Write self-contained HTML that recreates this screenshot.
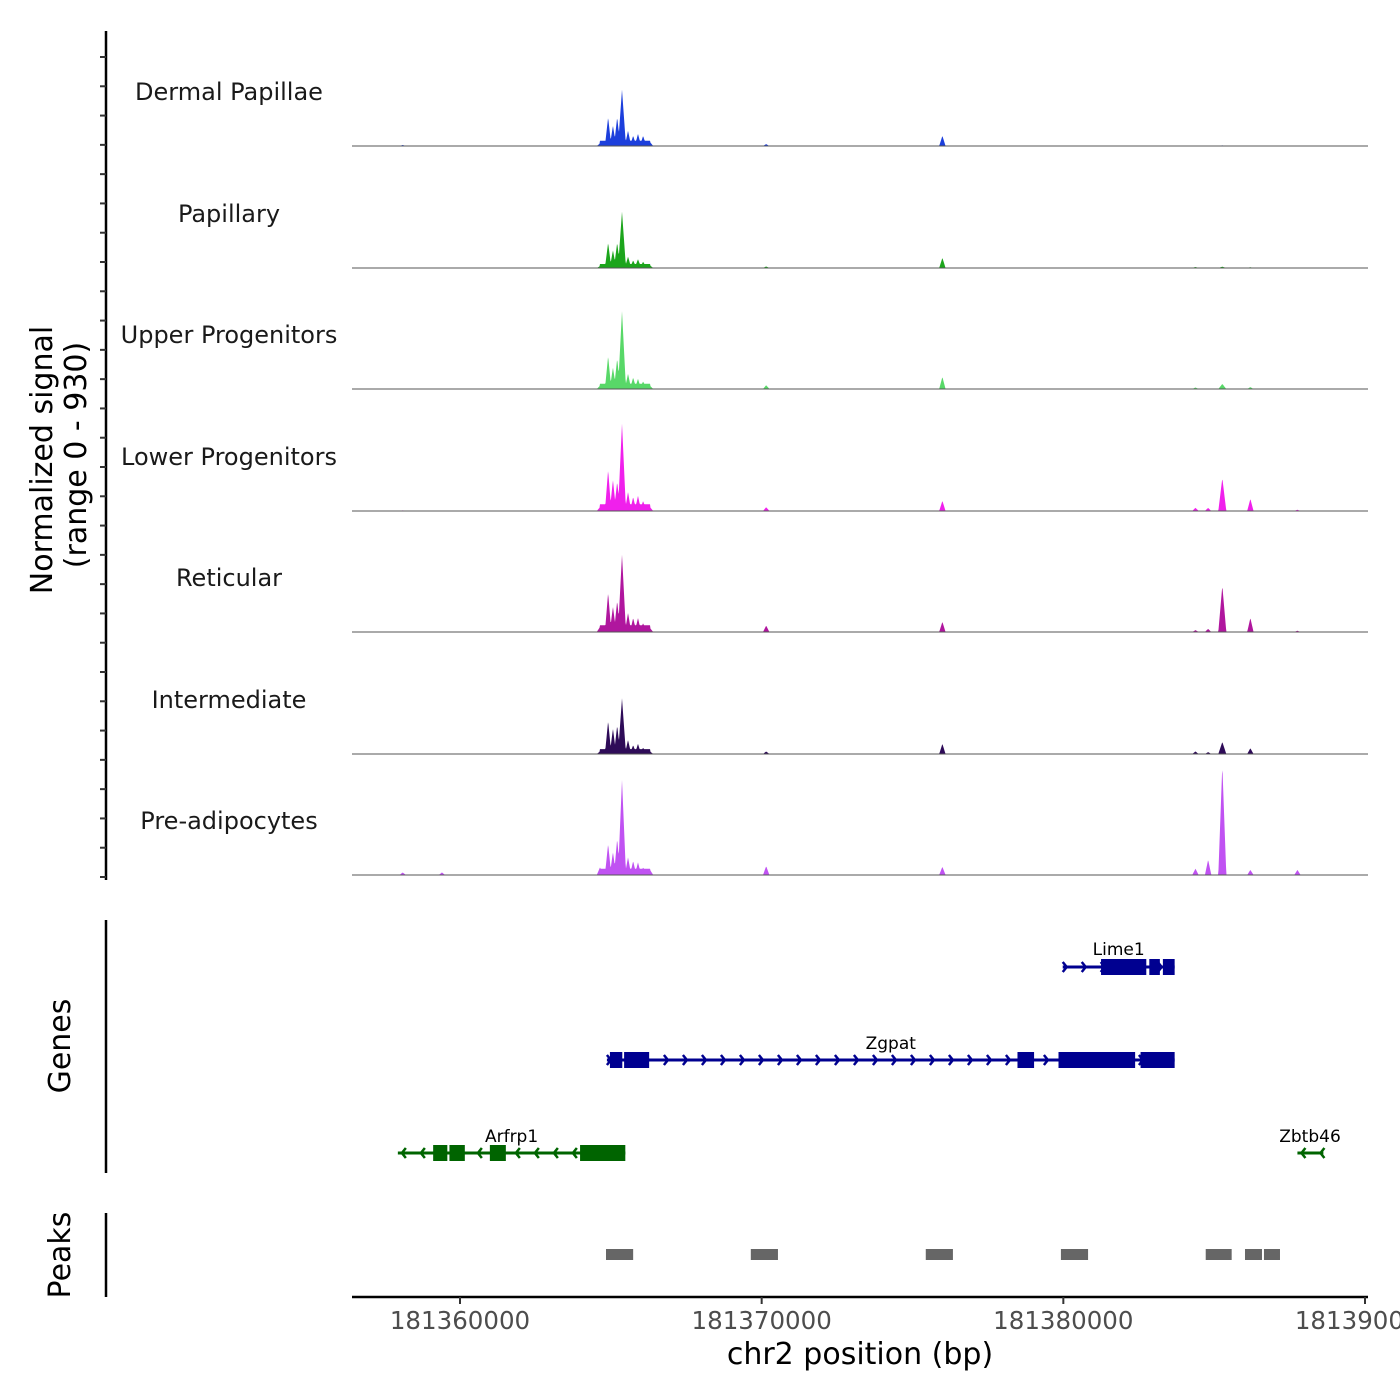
<!DOCTYPE html>
<html><head><meta charset="utf-8"><style>
html,body{margin:0;padding:0;background:#fff}
svg{display:block;font-family:"DejaVu Sans","Liberation Sans",sans-serif}
</style></head><body>
<svg id="chart" width="1400" height="1400" viewBox="0 0 1400 1400" xmlns="http://www.w3.org/2000/svg">
<rect width="1400" height="1400" fill="#fff"/>
<g id="tracks"></g>
<g id="genes"></g>
<g id="peaks"></g>
<g id="axes"></g>
</svg>
<script>
const NS="http://www.w3.org/2000/svg";
const trackNames=["Dermal Papillae","Papillary","Upper Progenitors","Lower Progenitors","Reticular","Intermediate","Pre-adipocytes"];
const trackColors=["#1c3fdc","#1ca51c","#58d868","#f020ec","#b0169e","#2e0b58","#c052f2"];
const peakPos=[-1900,-600,4640,4910,5070,5210,5370,5570,5740,5900,6070,6300,10150,15990,24380,24800,25270,26200,27760];
const dermalVals=[8,4,20,226,160,226,445,120,80,95,80,30,15,80,0,0,5,4,0];
const papillaryVals=[0,0,15,200,140,200,445,90,60,70,50,20,12,80,8,0,10,6,0];
const upperVals=[0,0,25,260,170,240,615,120,90,80,60,25,30,95,12,0,40,15,0];
const lowerVals=[5,0,30,325,245,230,690,150,110,120,80,30,30,80,25,25,260,95,10];
const reticularVals=[0,0,40,310,200,245,610,150,110,110,70,30,50,80,15,25,365,110,10];
const intermediateVals=[0,0,20,260,200,225,440,110,70,80,50,20,20,80,20,15,95,45,0];
const preadipVals=[20,20,60,245,180,285,750,140,110,100,60,40,70,65,50,120,865,40,40];
const series=[dermalVals,papillaryVals,upperVals,lowerVals,reticularVals,intermediateVals,preadipVals];
const xTicks=[181360000,181370000,181380000,181390000];
const yMax=930;
const geneNames=["Lime1","Zgpat","Arfrp1","Zbtb46"];
const geneStrand=[1,1,-1,-1];
const geneStart=[19980,4870,-2060,27760];
const geneEnd=[23690,23690,5480,28620];
const geneRow=[0,1,2,2];
const geneExons=[
 [[21250,22750],[22850,23200],[23300,23690]],
 [[4970,5380],[5440,6270],[18480,19030],[19840,22380],[22560,23690]],
 [[-890,-420],[-350,160],[990,1520],[3980,5480]],
 []
];
const peakStarts=[4840,9640,15440,19920,24720,26022,26651];
const peakEnds=[5740,10540,16340,20820,25580,26585,27182];

const X0=181360000, PX0=460, PXPERBP=(1365-460)/30000;
function xs(bp){return PX0+(bp-X0)*PXPERBP;}
function xo(off){return xs(X0+off);}
const baselines=[146,268,389,511,632,754,875];
const trackH=118;
function ys(v,i){return baselines[i]-v/yMax*trackH;}
function mk(tag,attrs,parent){const e=document.createElementNS(NS,tag);for(const k in attrs)e.setAttribute(k,attrs[k]);parent.appendChild(e);return e;}

const tracks=document.getElementById('tracks');
for(let t=0;t<series.length;t++){
  const vals=series[t];
  let pts=[];
  for(let px=352;px<=1368;px+=0.5){
    let v=0;
    for(let k=0;k<peakPos.length;k++){
      const c=xo(peakPos[k]);const hw=(k===6||k===16)?4:3.2;
      const d=Math.abs(px-c);
      if(d<hw){v=Math.max(v,vals[k]*(1-d/hw));}
    }
    const c1=xo(peakPos[2]),c2=xo(peakPos[11]);
    if(px>c1&&px<c2){v=Math.max(v,vals[7]*0.35);}
    pts.push(px.toFixed(1)+","+ys(v,t).toFixed(1));
  }
  const poly=mk('polygon',{points:"352,"+baselines[t]+" "+pts.join(" ")+" 1368,"+baselines[t],fill:trackColors[t]},tracks);
  
  
  const bl=mk('line',{x1:352,x2:1368,y1:baselines[t],y2:baselines[t],stroke:'#555','stroke-width':1},tracks);
  
  
  const lab=mk('text',{x:229,y:baselines[t]-46,'text-anchor':'middle','font-size':24,fill:'#1a1a1a'},tracks);
  lab.textContent=trackNames[t];
  
  
}

const genes=document.getElementById('genes');
const rowY=[967,1060,1153];
const labY=[955,1049,1142];
for(let g=0;g<geneNames.length;g++){
  const y=rowY[geneRow[g]];
  const col=geneStrand[g]>0?'#000090':'#006400';
  const x1=xo(geneStart[g]),x2=xo(geneEnd[g]);
  const grp=mk('g',{},genes);
  
  
  mk('line',{x1:x1,x2:x2,y1:y,y2:y,stroke:col,'stroke-width':3},grp);
  for(let ax=x1+4;ax<x2;ax+=19){
    const s=geneStrand[g];
    mk('polyline',{points:(ax-4*s)+","+(y-5)+" "+ax+","+y+" "+(ax-4*s)+","+(y+5),fill:'none',stroke:col,'stroke-width':2.5},grp);
  }
  for(const ex of geneExons[g]){
    mk('rect',{x:xo(ex[0]),y:y-8,width:xo(ex[1])-xo(ex[0]),height:16,fill:col},grp);
  }
  const t=mk('text',{x:(x1+x2)/2,y:labY[geneRow[g]],'text-anchor':'middle','font-size':17,fill:'#000'},grp);
  if(g===3)t.setAttribute('x',1310);
  t.textContent=geneNames[g];
}

const peaks=document.getElementById('peaks');
for(let p=0;p<peakStarts.length;p++){
  const r=mk('rect',{x:xo(peakStarts[p]),y:1249,width:xo(peakEnds[p])-xo(peakStarts[p]),height:11,fill:'#666'},peaks);
  
  
}

const axes=document.getElementById('axes');
mk('line',{x1:106,x2:106,y1:31,y2:880,stroke:'#000','stroke-width':2.5},axes);
for(let i=0;i<29;i++){
  const y=57+i*((877-57)/28);
  mk('line',{x1:100,x2:106,y1:y,y2:y,stroke:'#333','stroke-width':2},axes);
}
mk('line',{x1:106,x2:106,y1:920,y2:1173,stroke:'#000','stroke-width':2.5},axes);
mk('line',{x1:106,x2:106,y1:1213,y2:1297,stroke:'#000','stroke-width':2.5},axes);
mk('line',{x1:352,x2:1368,y1:1297,y2:1297,stroke:'#000','stroke-width':2.5},axes);
for(const tk of xTicks){
  const x=xs(tk);
  mk('line',{x1:x,x2:x,y1:1297,y2:1304,stroke:'#333','stroke-width':2},axes);
  const tl=mk('text',{x:x,y:1329,'text-anchor':'middle','font-size':24.5,fill:'#4d4d4d'},axes);
  tl.textContent=String(tk);
  
  
}
const xt=mk('text',{x:860,y:1364,'text-anchor':'middle','font-size':30,fill:'#000'},axes);
xt.textContent="chr2 position (bp)";


function vtext(txt,x,y,name){
  const e=mk('text',{x:x,y:y,'text-anchor':'middle','font-size':30,fill:'#000',transform:'rotate(-90 '+x+' '+y+')'},axes);
  e.textContent=txt;
  
  
}
vtext("Normalized signal",52,460,'y-axis-title');
vtext("(range 0 - 930)",86,455,'y-axis-range');
vtext("Genes",70,1046,'genes-axis-title');
vtext("Peaks",70,1255,'peaks-axis-title');
</script>
</body></html>
